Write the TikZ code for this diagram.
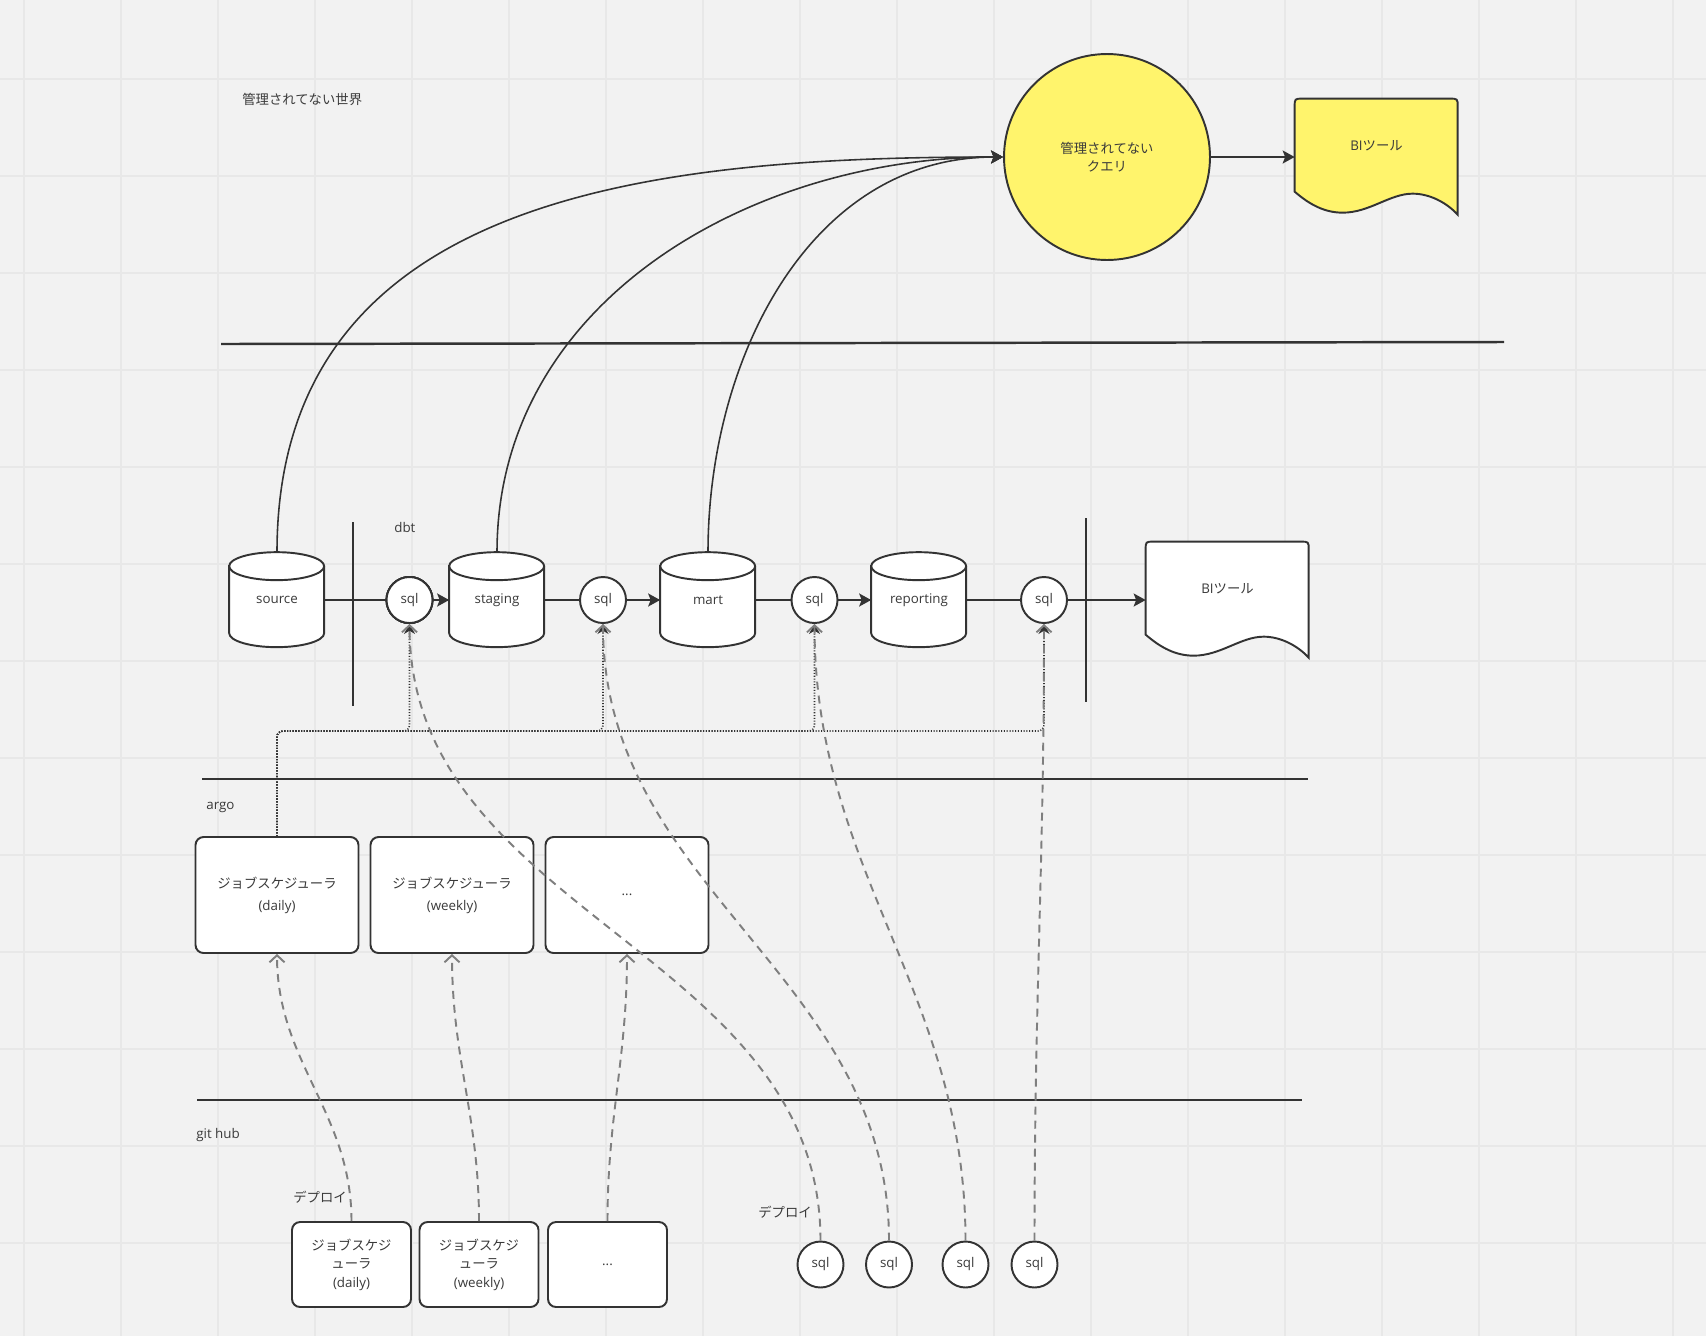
\documentclass[tikz,border=0pt]{standalone}
\usepackage{fontspec}
\setmainfont{Open Sans}
\newfontfamily\jp{Noto Sans CJK JP}
\usetikzlibrary{arrows.meta,backgrounds}
\definecolor{ink}{HTML}{333333}
\definecolor{txtc}{HTML}{3A3A3A}
\definecolor{paper}{HTML}{F2F2F2}
\definecolor{gridc}{HTML}{E8E8E8}
\definecolor{hl}{HTML}{FFF46C}
\definecolor{dashc}{HTML}{7F7F7F}
\newcommand{\docoutline}[2]{%
  \begin{scope}[on background layer]
    \draw[ink, line width=1.1pt, fill=#2, shift={(#1.north west)}] (0,93) -- (0,8) .. controls (0,0) .. (8,0) -- (155,0) .. controls (163,0) .. (163,8) -- (163,116) .. controls (152,104) and (135,95) .. (118,95) .. controls (95,95) and (75,114) .. (48,114) .. controls (30,114) and (15,106) .. (0,93) -- cycle;
  \end{scope}}
\newcommand{\dbshape}[1]{%
  \begin{scope}[on background layer]
    \draw[ink, line width=1.1pt, fill=white, shift={(#1.north west)}] (0,14) -- (0,81) arc[start angle=180, end angle=360, x radius=0.95cm, y radius=0.28cm] -- (95,14) arc[start angle=0, end angle=180, x radius=0.95cm, y radius=0.28cm] -- cycle;
    \draw[ink, line width=1.1pt, shift={(#1.north west)}] (0,14) arc[start angle=180, end angle=360, x radius=0.95cm, y radius=0.28cm];
  \end{scope}}

\begin{document}
\begin{tikzpicture}[x=0.02cm, y=-0.02cm, font=\fontsize{7.6}{10.5}\selectfont, text=txtc,
    db/.style={minimum width=1.9cm, minimum height=1.9cm, inner sep=0pt},
    sql/.style={circle, draw=ink, line width=1.1pt, fill=white, minimum size=0.92cm, inner sep=0pt},
    job/.style={draw=ink, line width=1.1pt, fill=white, rounded corners=0.16cm, minimum width=3.26cm, minimum height=2.32cm, align=center},
    repo/.style={job, minimum width=2.38cm, minimum height=1.7cm},
    doc/.style={minimum width=3.26cm, minimum height=2.32cm, inner sep=0pt, text height=0.2cm, text depth=0.48cm},
    lbl/.style={anchor=west, inner sep=0pt},
    flow/.style={ink, line width=1.1pt},
    arr/.style={flow, -{Stealth[length=0.24cm, width=0.26cm, inset=0.05cm]}},
    query/.style={ink, line width=0.9pt, -{Stealth[length=0.24cm, width=0.26cm, inset=0.05cm]}},
    sep/.style={ink, line width=1.4pt},
    trig/.style={ink, line width=0.9pt, dash pattern=on 0.6pt off 1pt, rounded corners=0.12cm, -{Stealth[length=0.2cm, width=0.22cm]}},
    deploy/.style={dashc, line width=1.1pt, dash pattern=on 0.16cm off 0.12cm, -{Straight Barb[length=0.14cm, width=0.3cm]}}]
  \useasboundingbox (0,0) rectangle (1706,1336);
  \begin{scope}[on background layer]
    \fill[paper] (0,0) rectangle (1706,1336);
    \foreach \gx in {24,121,...,1673} \draw[gridc, line width=1pt] (\gx,0) -- (\gx,1336);
    \foreach \gy in {79,176,...,1243} \draw[gridc, line width=1pt] (0,\gy) -- (1706,\gy);
  \end{scope}
  \draw[sep] (221,344) -- (1504,342);
  \draw[sep] (202,779) -- (1308,779);
  \draw[sep] (197,1100) -- (1302,1100);
  \draw[flow] (353,522) -- (353,706);
  \draw[flow] (1086,518) -- (1086,702);

  \node[lbl] (world) at (242,99) {\jp 管理されてない世界};
  \node[circle, draw=ink, line width=1.1pt, fill=hl, minimum size=4.12cm, align=center] (adhoc) at (1107,157) {\jp 管理されてない\\\jp クエリ};
  \node[doc] (bitop) at (1376.5,157) {BI{\jp ツール}};
  \docoutline{bitop}{hl}

  \node[lbl] (dbt) at (394,527) {dbt};
  \node[db] (src) at (277,600) {source};
  \node[db] (stg) at (497,600) {staging};
  \node[db] (mart) at (708,600) {mart};
  \node[db] (rep) at (919,600) {reporting};
  \foreach \d in {src,stg,mart,rep} \dbshape{\d}
  \node[sql] (qa) at (409.5,600) {sql};
  \node[sql] (qb) at (603,600) {sql};
  \node[sql] (qc) at (814.5,600) {sql};
  \node[sql] (qd) at (1044,600) {sql};
  \node[doc] (bi) at (1227.5,600) {BI{\jp ツール}};
  \docoutline{bi}{white}

  \node[lbl] (argo) at (206,807) {argo};
  \node[job] (jd) at (277,895) {{\jp ジョブスケジューラ}\\[2pt](daily)};
  \node[job] (jw) at (452,895) {{\jp ジョブスケジューラ}\\[2pt](weekly)};
  \node[job] (jx) at (627,895) {...};

  \node[lbl] (gh) at (196,1135) {git hub};
  \node[lbl] (depa) at (293,1197) {\jp デプロイ};
  \node[repo] (rd) at (351.5,1264.5) {{\jp ジョブスケジ}\\{\jp ューラ}\\(daily)};
  \node[repo] (rw) at (479,1264.5) {{\jp ジョブスケジ}\\{\jp ューラ}\\(weekly)};
  \node[repo] (rx) at (607.5,1264.5) {...};
  \node[lbl] (depb) at (758,1212) {\jp デプロイ};
  \node[sql] (ga) at (820.5,1264.5) {sql};
  \node[sql] (gb) at (889,1264.5) {sql};
  \node[sql] (gc) at (965.5,1264.5) {sql};
  \node[sql] (gd) at (1034.5,1264.5) {sql};

  \draw[flow] (src) -- (qa);
  \draw[arr] (qa) -- (stg);
  \draw[flow] (stg) -- (qb);
  \draw[arr] (qb) -- (mart);
  \draw[flow] (mart) -- (qc);
  \draw[arr] (qc) -- (rep);
  \draw[flow] (rep) -- (qd);
  \draw[arr] (qd) -- (bi);
  \draw[arr] (adhoc) -- (bitop);

  \draw[query] (src.north) to[out=90, in=180, looseness=1.1] (adhoc.west);
  \draw[query] (stg.north) to[out=90, in=180] (adhoc.west);
  \draw[query] (mart.north) to[out=90, in=180] (adhoc.west);

  \coordinate (bus) at (277,731);
  \foreach \q in {qa,qb,qc,qd} \draw[trig] (jd.north) -- (bus) -| (\q.south);

  \draw[deploy] (ga.north) to[out=90, in=-90] (qa.south);
  \draw[deploy] (gb.north) to[out=90, in=-90] (qb.south);
  \draw[deploy] (gc.north) to[out=90, in=-90] (qc.south);
  \draw[deploy] (gd.north) to[out=90, in=-90] (qd.south);
  \draw[deploy] (rd.north) to[out=90, in=-90] (jd.south);
  \draw[deploy] (rw.north) to[out=90, in=-90] (jw.south);
  \draw[deploy] (rx.north) to[out=90, in=-90] (jx.south);
\end{tikzpicture}
\end{document}
